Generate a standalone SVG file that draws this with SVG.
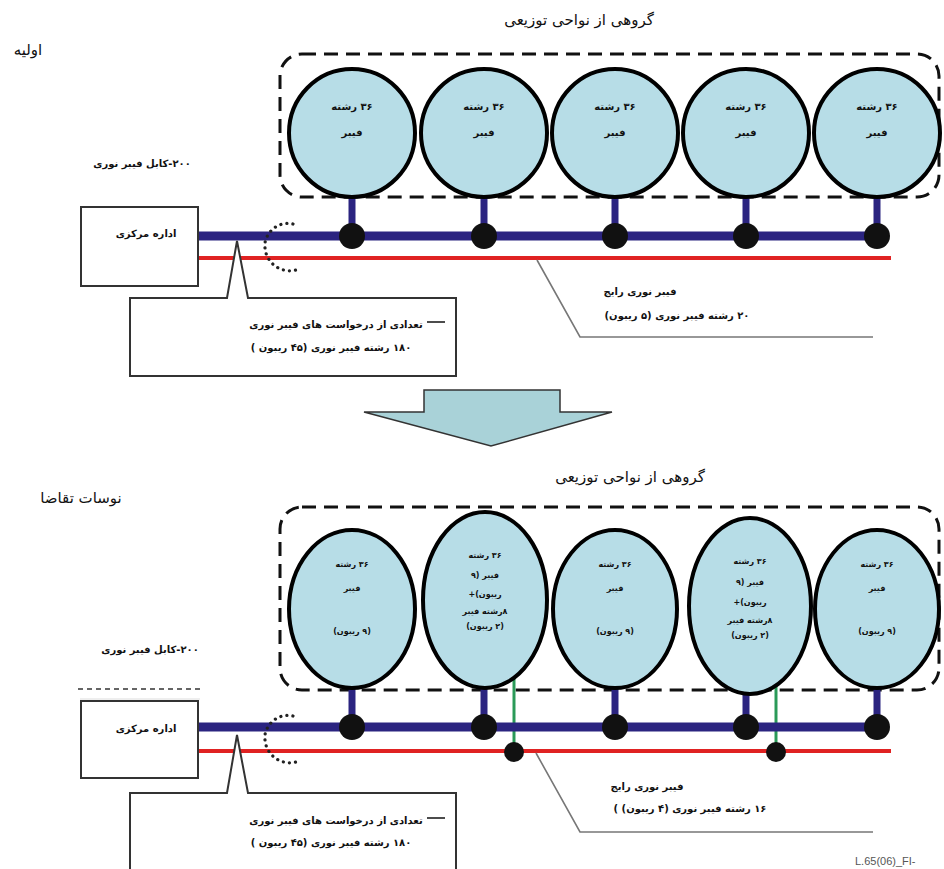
<svg xmlns="http://www.w3.org/2000/svg" width="944" height="869" viewBox="0 0 944 869">
<style>
.fa{font-family:"DejaVu Sans",sans-serif;fill:#111;text-anchor:middle;direction:rtl;unicode-bidi:embed}
.big{font-size:15px}
.sm{font-size:10px;font-weight:bold}
.xs{font-size:8px;font-weight:bold}
.node{fill:#b7dde7;stroke:#000;stroke-width:4}
.grp{fill:none;stroke:#111;stroke-width:3;stroke-dasharray:14 8}
.bus{stroke:#2b2480;stroke-width:9;fill:none}
.stem{stroke:#2b2480;stroke-width:7;fill:none}
.red{stroke:#e02222;stroke-width:4;fill:none}
.green{stroke:#2a9a58;stroke-width:3;fill:none}
.dot{fill:#111}
.box{fill:#fff;stroke:#333;stroke-width:2}
.lead{fill:none;stroke:#777;stroke-width:1.6}
.dotted{fill:none;stroke:#222;stroke-width:3.2;stroke-linecap:round;stroke-dasharray:0.1 6}
</style>

<!-- ===== Top: initial ===== -->
<g id="top-labels">
<text class="fa big" x="579" y="25" direction="rtl">گروهی از نواحی توزیعی</text>
<text class="fa big" x="28" y="55" direction="rtl">اولیه</text>
<text class="fa sm" x="142" y="167" direction="rtl">۲۰۰-کابل فیبر نوری</text>
</g>
<g id="top-group"><rect class="grp" x="280" y="54" width="659" height="143" rx="22"/></g>

<g id="top-connectors">
<line class="stem" x1="352" y1="190" x2="352" y2="236"/>
<line class="stem" x1="484" y1="190" x2="484" y2="236"/>
<line class="stem" x1="615" y1="190" x2="615" y2="236"/>
<line class="stem" x1="746" y1="190" x2="746" y2="236"/>
<line class="stem" x1="877" y1="190" x2="877" y2="236"/>
<line class="bus" x1="198" y1="236" x2="888" y2="236"/>
<line class="red" x1="198" y1="258" x2="891" y2="258"/>
<circle class="dot" cx="352" cy="236" r="13"/>
<circle class="dot" cx="484" cy="236" r="13"/>
<circle class="dot" cx="615" cy="236" r="13"/>
<circle class="dot" cx="746" cy="236" r="13"/>
<circle class="dot" cx="877" cy="236" r="13"/>
<path class="dotted" d="M293 224 C276 220 263 236 265 248 C266 262 280 274 296 270"/>
<polyline class="lead" points="537,260 580,337 873,337"/>
</g>

<g id="top-n1"><ellipse class="node" cx="352" cy="133" rx="63" ry="64"/><text class="fa sm" x="352" y="110" direction="rtl">۳۶ رشته</text><text class="fa sm" x="352" y="136" direction="rtl">فیبر</text></g>
<g id="top-n2"><ellipse class="node" cx="484" cy="133" rx="63" ry="64"/><text class="fa sm" x="484" y="110" direction="rtl">۳۶ رشته</text><text class="fa sm" x="484" y="136" direction="rtl">فیبر</text></g>
<g id="top-n3"><ellipse class="node" cx="615" cy="133" rx="63" ry="64"/><text class="fa sm" x="615" y="110" direction="rtl">۳۶ رشته</text><text class="fa sm" x="615" y="136" direction="rtl">فیبر</text></g>
<g id="top-n4"><ellipse class="node" cx="746" cy="133" rx="63" ry="64"/><text class="fa sm" x="746" y="110" direction="rtl">۳۶ رشته</text><text class="fa sm" x="746" y="136" direction="rtl">فیبر</text></g>
<g id="top-n5"><ellipse class="node" cx="877" cy="133" rx="63" ry="64"/><text class="fa sm" x="877" y="110" direction="rtl">۳۶ رشته</text><text class="fa sm" x="877" y="136" direction="rtl">فیبر</text></g>

<g id="top-office"><rect class="box" x="81" y="207" width="117" height="79"/><text class="fa sm" x="146" y="237" direction="rtl">اداره مرکزی</text></g>
<g id="top-callout">
<path class="box" d="M130 298 H227 L237 241 L248 298 H456 V376 H130 Z"/>
<line x1="427" y1="322" x2="445" y2="322" stroke="#111" stroke-width="1.5"/>
<text class="fa sm" x="336" y="328" direction="rtl">تعدادی از درخواست های فیبر نوری</text>
<text class="fa sm" x="331" y="351" direction="rtl">۱۸۰ رشته فیبر نوری (۴۵ ریبون )</text>
</g>
<g id="top-common">
<text class="fa sm" x="640" y="295" direction="rtl">فیبر نوری رایج</text>
<text class="fa sm" x="677" y="319" direction="rtl">۲۰ رشته  فیبر نوری (۵ ریبون)</text>
</g>

<!-- ===== Arrow ===== -->
<g id="arrow"><path d="M424 390 H560 V412 H612 L491 446 L364 412 H424 Z" fill="#a9d2d8" stroke="#333" stroke-width="1.5"/></g>

<!-- ===== Bottom: demand fluctuation ===== -->
<g id="bottom-labels">
<text class="fa big" x="630" y="482" direction="rtl">گروهی از نواحی توزیعی</text>
<text class="fa big" x="81" y="503" direction="rtl">نوسات تقاضا</text>
<text class="fa sm" x="150" y="653" direction="rtl">۲۰۰-کابل فیبر نوری</text>
<line x1="78" y1="689" x2="202" y2="689" stroke="#333" stroke-width="1.5" stroke-dasharray="5 4"/>
<line x1="80" y1="699" x2="200" y2="699" stroke="#ddd" stroke-width="1"/>
</g>
<g id="bottom-group"><rect class="grp" x="280" y="507" width="659" height="183" rx="22"/></g>

<g id="bottom-connectors">
<line class="stem" x1="352" y1="680" x2="352" y2="727"/>
<line class="stem" x1="484" y1="680" x2="484" y2="727"/>
<line class="stem" x1="615" y1="680" x2="615" y2="727"/>
<line class="stem" x1="746" y1="685" x2="746" y2="727"/>
<line class="stem" x1="877" y1="680" x2="877" y2="727"/>
<line class="green" x1="514" y1="676" x2="514" y2="751"/>
<line class="green" x1="776" y1="676" x2="776" y2="751"/>
<line class="bus" x1="198" y1="727" x2="888" y2="727"/>
<line class="red" x1="198" y1="751" x2="891" y2="751"/>
<circle class="dot" cx="352" cy="727" r="13"/>
<circle class="dot" cx="484" cy="727" r="13"/>
<circle class="dot" cx="615" cy="727" r="13"/>
<circle class="dot" cx="746" cy="727" r="13"/>
<circle class="dot" cx="877" cy="727" r="13"/>
<circle class="dot" cx="514" cy="752" r="10"/>
<circle class="dot" cx="776" cy="752" r="10"/>
<path class="dotted" d="M293 716 C276 712 263 728 265 740 C266 754 280 766 296 762"/>
<polyline class="lead" points="536,753 580,832 873,832"/>
</g>

<g id="bot-n1"><ellipse class="node" cx="352" cy="609" rx="63" ry="79"/><text class="fa xs" x="352" y="567" direction="rtl">۳۶ رشته</text><text class="fa xs" x="352" y="591" direction="rtl">فیبر</text><text class="fa xs" x="352" y="634" direction="rtl">(۹ ریبون)</text></g>
<g id="bot-n2"><ellipse class="node" cx="485" cy="600" rx="62" ry="88"/><text class="fa xs" x="485" y="558" direction="rtl">۳۶ رشته</text><text class="fa xs" x="485" y="578" direction="rtl">فیبر (۹</text><text class="fa xs" x="485" y="597" direction="rtl">ریبون)+</text><text class="fa xs" x="485" y="614" direction="rtl">۸رشته فیبر</text><text class="fa xs" x="485" y="629" direction="rtl">(۲ ریبون)</text></g>
<g id="bot-n3"><ellipse class="node" cx="615" cy="609" rx="62" ry="79"/><text class="fa xs" x="615" y="567" direction="rtl">۳۶ رشته</text><text class="fa xs" x="615" y="591" direction="rtl">فیبر</text><text class="fa xs" x="615" y="634" direction="rtl">(۹ ریبون)</text></g>
<g id="bot-n4"><ellipse class="node" cx="750" cy="606" rx="61" ry="88"/><text class="fa xs" x="750" y="564" direction="rtl">۳۶ رشته</text><text class="fa xs" x="750" y="585" direction="rtl">فیبر (۹</text><text class="fa xs" x="750" y="605" direction="rtl">ریبون)+</text><text class="fa xs" x="750" y="623" direction="rtl">۸رشته فیبر</text><text class="fa xs" x="750" y="638" direction="rtl">(۲ ریبون)</text></g>
<g id="bot-n5"><ellipse class="node" cx="877" cy="609" rx="62" ry="79"/><text class="fa xs" x="877" y="567" direction="rtl">۳۶ رشته</text><text class="fa xs" x="877" y="591" direction="rtl">فیبر</text><text class="fa xs" x="877" y="634" direction="rtl">(۹ ریبون)</text></g>

<g id="bot-office"><rect class="box" x="81" y="701" width="117" height="77"/><text class="fa sm" x="146" y="732" direction="rtl">اداره مرکزی</text></g>
<g id="bot-callout">
<path class="box" d="M130 875 V793 H227 L237 735 L248 793 H456 V875"/>
<line x1="427" y1="818" x2="445" y2="818" stroke="#111" stroke-width="1.5"/>
<text class="fa sm" x="336" y="824" direction="rtl">تعدادی از درخواست های فیبر نوری</text>
<text class="fa sm" x="331" y="846" direction="rtl">۱۸۰ رشته فیبر نوری (۴۵ ریبون )</text>
</g>
<g id="bot-common">
<text class="fa sm" x="647" y="790" direction="rtl">فیبر نوری رایج</text>
<text class="fa sm" x="690" y="812" direction="rtl">۱۶ رشته فیبر نوری (۴ ریبون) )</text>
</g>

<text x="855" y="865" font-family="Liberation Sans, sans-serif" font-size="11" fill="#555">L.65(06)_FI-</text>
</svg>
